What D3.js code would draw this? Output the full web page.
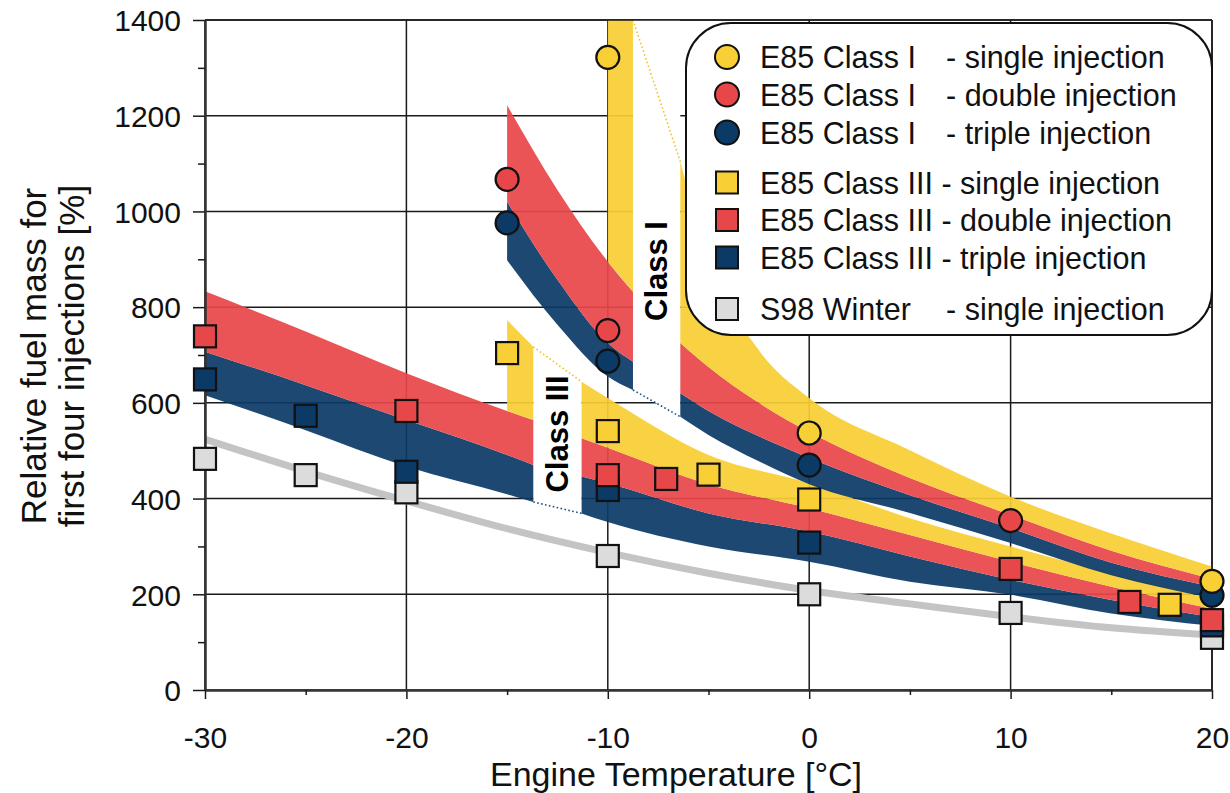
<!DOCTYPE html>
<html>
<head>
<meta charset="utf-8">
<script src="https://cdn.jsdelivr.net/npm/d3@7"></script>
<style>
  body { margin: 0; background: #fff; }
  svg { display: block; font-family: "Liberation Sans", Arial, sans-serif; }
</style>
</head>
<body>
<svg width="1230" height="793"></svg>
<script>
// ---- data ----
// temperatures in degC, values in % (relative fuel mass)

// Class III bands, left part (before the "Class III" label gap)
var c3LeftT = [-30, -25, -20, -15, -13.7];
var c3LeftBlueLow = [616, 543, 467, 409, 393];
var c3LeftRedLow = [707, 637, 564, 491, 470];
var c3LeftRedHigh = [833, 749, 662, 583, 564];
var c3LeftYellowT = [-15, -13.7];
var c3LeftYellowLow = [583, 564];
var c3LeftYellowHigh = [773, 717];

// Class III bands, right part
var c3RightT = [-11.3, -10, -5, 0, 5, 10, 15, 20];
var c3RightBlueLow = [369, 351, 300, 268, 226, 199, 160, 134];
var c3RightRedLow = [446, 432, 369, 331, 279, 230, 188, 152];
var c3RightRedHigh = [526, 506, 430, 380, 324, 268, 216, 170];
var c3RightYellowHigh = [644, 610, 491, 432, 359, 300, 244, 190];

// Class I bands, left part (before the "Class I" label gap)
var c1LeftT = [-15, -12.5, -10, -8.75];
var c1LeftBlueLow = [898, 763, 655, 627];
var c1LeftRedLow = [1020, 857, 725, 686];
var c1LeftRedHigh = [1222, 1045, 895, 832];
var c1LeftYellowT = [-10, -8.75];
var c1LeftYellowLow = [895, 832];
var c1LeftYellowHigh = [1400, 1400];

// Class I bands, right part
var c1RightT = [-6.4, -5, -2.5, 0, 5, 10, 15, 20];
var c1RightBlueLow = [571, 533, 478, 430, 370, 307, 240, 192];
var c1RightRedLow = [620, 583, 530, 485, 407, 338, 266, 216];
var c1RightRedHigh = [725, 675, 600, 539, 443, 366, 291, 232];
var c1RightYellowHigh = [1104, 900, 710, 610, 501, 404, 327, 258];

// S98 winter fit line
var grayT = [-30, -25, -20, -15, -10, -5, 0, 5, 10, 15, 20];
var grayFit = [524, 457, 395, 337, 287, 244, 208, 180, 153, 130, 115];

// measured points [temp, value]
var c1Single = [[-10, 1322], [0, 537], [20, 227]];
var c1Double = [[-15, 1067], [-10, 751], [10, 354]];
var c1Triple = [[-15, 976], [-10, 687], [0, 470], [20, 198]];
var c3Single = [[-15, 704], [-10, 541], [-5, 450], [0, 398], [17.9, 178]];
var c3Double = [[-30, 739], [-20, 583], [-10, 449], [-7.1, 441], [10, 253], [15.9, 184], [20, 146]];
var c3Triple = [[-30, 649], [-25, 573], [-20, 456], [-10, 418], [0, 308], [20, 135]];
var s98Single = [[-30, 483], [-25, 449], [-20, 413], [-10, 280], [0, 200], [10, 161], [20, 109]];

// label gaps: [tStart, tEnd]
var gapC3 = [-13.7, -11.3];
var gapC1 = [-8.75, -6.4];

var xTicks = [-30, -20, -10, 0, 10, 20];
var xMinor = [-25, -15, -5, 5, 15];
var yTicks = [0, 200, 400, 600, 800, 1000, 1200, 1400];
var yMinor = [100, 300, 500, 700, 900, 1100, 1300];

var legendNames = ["E85 Class I", "E85 Class I", "E85 Class I", "E85 Class III - single injection",
  "E85 Class III - double injection", "E85 Class III - triple injection", "S98 Winter"];
var legendDesc = ["- single injection", "- double injection", "- triple injection", "", "", "", "- single injection"];

// ---- drawing ----
var YEL = "#F9CF36", RED = "#E8474A", BLU = "#0C3A67", GRY = "#DCDCDC";

var svg = d3.select("svg");
var x = d3.scaleLinear().domain([-30, 20]).range([205, 1212]);
var y = d3.scaleLinear().domain([0, 1400]).range([690, 20]);
var plain = d => (d < 0 ? "-" + Math.abs(d) : String(d));

svg.append("defs").append("clipPath").attr("id", "plot")
  .append("rect").attr("x", 205).attr("y", 20).attr("width", 1007).attr("height", 670);

// grid
var grid = svg.append("g").attr("stroke", "#1a1a1a").attr("stroke-width", 1.5);
grid.selectAll(".gx").data(xTicks).enter().append("line")
  .attr("x1", d => x(d)).attr("x2", d => x(d)).attr("y1", y(0)).attr("y2", y(1400));
grid.selectAll(".gy").data(yTicks).enter().append("line")
  .attr("x1", x(-30)).attr("x2", x(20)).attr("y1", d => y(d)).attr("y2", d => y(d));

var plot = svg.append("g").attr("clip-path", "url(#plot)");

// white boxes behind the class labels
function gapPoly(gap, top, bot) {
  return [[x(gap[0]), y(top[0])], [x(gap[1]), y(top[1])], [x(gap[1]), y(bot[1])], [x(gap[0]), y(bot[0])]];
}
plot.append("polygon").attr("fill", "#fff")
  .attr("points", gapPoly(gapC3, [c3LeftYellowHigh[1], c3RightYellowHigh[0]], [c3LeftBlueLow[4], c3RightBlueLow[0]]).join(" "));
plot.append("polygon").attr("fill", "#fff")
  .attr("points", gapPoly(gapC1, [1400, 1400], [c1LeftBlueLow[3], c1RightBlueLow[0]]).join(" "));

var area = d3.area()
  .x(d => x(d.t)).y0(d => y(d.lo)).y1(d => y(d.hi))
  .curve(d3.curveMonotoneX);

function band(ts, lo, hi) {
  return ts.map((t, i) => ({ t: t, lo: lo[i], hi: hi[i] }));
}

var bands = [
  [band(c3LeftT, c3LeftBlueLow, c3LeftRedLow), BLU],
  [band(c3LeftT, c3LeftRedLow, c3LeftRedHigh), RED],
  [band(c3LeftYellowT, c3LeftYellowLow, c3LeftYellowHigh), YEL],
  [band(c3RightT, c3RightBlueLow, c3RightRedLow), BLU],
  [band(c3RightT, c3RightRedLow, c3RightRedHigh), RED],
  [band(c3RightT, c3RightRedHigh, c3RightYellowHigh), YEL],
  [band(c1LeftT, c1LeftBlueLow, c1LeftRedLow), BLU],
  [band(c1LeftT, c1LeftRedLow, c1LeftRedHigh), RED],
  [band(c1LeftYellowT, c1LeftYellowLow, c1LeftYellowHigh), YEL],
  [band(c1RightT, c1RightBlueLow, c1RightRedLow), BLU],
  [band(c1RightT, c1RightRedLow, c1RightRedHigh), RED],
  [band(c1RightT, c1RightRedHigh, c1RightYellowHigh), YEL]
];
bands.forEach(function(b) {
  plot.append("path").datum(b[0]).attr("fill", b[1]).attr("opacity", 0.93).attr("d", area);
});

// dotted connectors across the label gaps
var seg = d3.line().x(d => x(d[0])).y(d => y(d[1]));
function dotted(pts, col) {
  plot.append("path").datum(pts).attr("d", seg).attr("fill", "none")
    .attr("stroke", col).attr("stroke-width", 1.6).attr("stroke-dasharray", "1.6,2.4");
}
dotted([[gapC3[0], c3LeftYellowHigh[1]], [gapC3[1], c3RightYellowHigh[0]]], "#F2C32A");
dotted([[gapC3[0], c3LeftBlueLow[4]], [gapC3[1], c3RightBlueLow[0]]], "#1F4F86");
dotted([[gapC1[0], 1400], [gapC1[1], c1RightYellowHigh[0]]], "#F2C32A");
dotted([[gapC1[0], c1LeftBlueLow[3]], [gapC1[1], c1RightBlueLow[0]]], "#1F4F86");

// S98 fit curve
plot.append("path")
  .datum(grayT.map((t, i) => [t, grayFit[i]]))
  .attr("d", d3.line().x(d => x(d[0])).y(d => y(d[1])).curve(d3.curveMonotoneX))
  .attr("fill", "none").attr("stroke", "#C4C4C4").attr("stroke-width", 7);

// class labels
svg.append("text").attr("transform", "translate(667,271) rotate(-90)")
  .attr("text-anchor", "middle").attr("font-weight", "bold").attr("font-size", 31).text("Class I");
svg.append("text").attr("transform", "translate(568,434) rotate(-90)")
  .attr("text-anchor", "middle").attr("font-weight", "bold").attr("font-size", 31).text("Class III");

// frame
svg.append("line").attr("x1", x(-30)).attr("x2", x(20)).attr("y1", y(1400)).attr("y2", y(1400))
  .attr("stroke", "#1a1a1a").attr("stroke-width", 1.5);
svg.append("line").attr("x1", x(20)).attr("x2", x(20)).attr("y1", y(0)).attr("y2", y(1400))
  .attr("stroke", "#1a1a1a").attr("stroke-width", 1.5);

// axes
var yAxis = svg.append("g").attr("transform", "translate(205,0)")
  .call(d3.axisLeft(y).tickValues(yTicks).tickFormat(plain).tickSize(12).tickPadding(12).tickSizeOuter(0));
svg.append("g").attr("transform", "translate(205,0)")
  .call(d3.axisLeft(y).tickValues(yMinor).tickSize(7).tickFormat("").tickSizeOuter(0));
var xAxis = svg.append("g").attr("transform", "translate(0,690)")
  .call(d3.axisBottom(x).tickValues(xTicks).tickFormat(plain).tickSize(9).tickPadding(28).tickSizeOuter(0));
svg.append("g").attr("transform", "translate(0,690)")
  .call(d3.axisBottom(x).tickValues(xMinor).tickSize(5).tickFormat("").tickSizeOuter(0));

svg.selectAll(".domain").attr("stroke", "#333").attr("stroke-width", 2);
svg.selectAll(".tick line").attr("stroke", "#1a1a1a").attr("stroke-width", 1.5);
svg.selectAll(".tick text").attr("font-family", "Liberation Sans, Arial, sans-serif")
  .attr("font-size", 30).attr("fill", "#111");
yAxis.selectAll(".tick text").attr("dy", "0.36em");
xAxis.selectAll(".tick text").attr("dy", "0em").attr("y", 58);

// axis titles
svg.append("text").attr("x", 676).attr("y", 786).attr("text-anchor", "middle")
  .attr("font-size", 34).attr("fill", "#111").text("Engine Temperature [°C]");
svg.append("text").attr("transform", "translate(46,356) rotate(-90)").attr("text-anchor", "middle")
  .attr("font-size", 35).attr("fill", "#111").text("Relative fuel mass for");
svg.append("text").attr("transform", "translate(84,356) rotate(-90)").attr("text-anchor", "middle")
  .attr("font-size", 35).attr("fill", "#111").text("first four injections [%]");

// markers
function squares(data, col) {
  svg.append("g").selectAll("rect").data(data).enter().append("rect")
    .attr("x", d => x(d[0]) - 11).attr("y", d => y(d[1]) - 11)
    .attr("width", 22).attr("height", 22)
    .attr("fill", col).attr("stroke", "#111").attr("stroke-width", 2.2);
}
function circles(data, col) {
  svg.append("g").selectAll("circle").data(data).enter().append("circle")
    .attr("cx", d => x(d[0])).attr("cy", d => y(d[1])).attr("r", 11.5)
    .attr("fill", col).attr("stroke", "#111").attr("stroke-width", 2.2);
}
squares(s98Single, GRY);
squares(c3Triple, BLU);
squares(c3Double, RED);
squares(c3Single, YEL);
circles(c1Triple, BLU);
circles(c1Double, RED);
circles(c1Single, YEL);

// legend
var lg = svg.append("g");
lg.append("rect").attr("x", 686).attr("y", 23).attr("width", 526).attr("height", 312)
  .attr("rx", 45).attr("ry", 45).attr("fill", "#fff").attr("stroke", "#111").attr("stroke-width", 2);
var rowY = [57, 94.5, 132.5, 182.5, 220, 257.5, 309];
var rowCol = [YEL, RED, BLU, YEL, RED, BLU, GRY];
rowY.forEach(function(ry, i) {
  if (i < 3) {
    lg.append("circle").attr("cx", 727).attr("cy", ry).attr("r", 12)
      .attr("fill", rowCol[i]).attr("stroke", "#111").attr("stroke-width", 2);
  } else {
    lg.append("rect").attr("x", 716).attr("y", ry - 11).attr("width", 22).attr("height", 22)
      .attr("fill", rowCol[i]).attr("stroke", "#111").attr("stroke-width", 2);
  }
  lg.append("text").attr("x", 760).attr("y", ry + 11).attr("font-size", 30.5).attr("fill", "#111")
    .text(legendNames[i]);
  if (legendDesc[i]) {
    lg.append("text").attr("x", 946).attr("y", ry + 11)
      .attr("font-size", 30.5).attr("fill", "#111").text(legendDesc[i]);
  }
});
</script>
</body>
</html>
